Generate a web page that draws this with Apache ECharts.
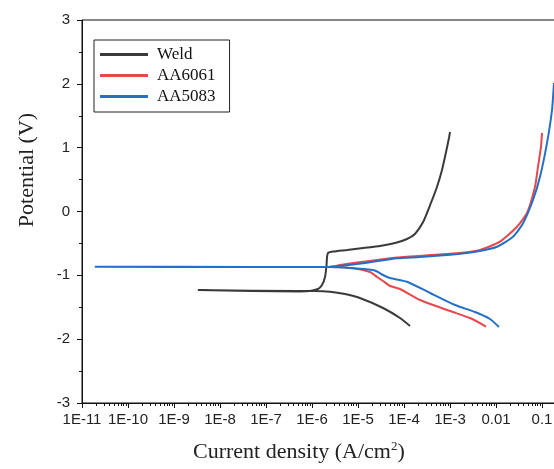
<!DOCTYPE html>
<html>
<head>
<meta charset="utf-8">
<script src="https://cdn.jsdelivr.net/npm/echarts@6/dist/echarts.min.js"></script>
<style>
  html, body { margin: 0; padding: 0; background: #fff; overflow: hidden; }
  #chart { width: 600px; height: 469px; }
</style>
</head>
<body>
<div id="chart"></div>
<script>
// [current density (A/cm2), potential (V)], in scan order
const weld = [
  [1.35e-4, -1.794], [8.2e-5, -1.669], [3.5e-5, -1.512], [1.1e-5, -1.355],
  [5.2e-6, -1.293], [2.46e-6, -1.257], [1.16e-6, -1.246], [5.5e-7, -1.246],
  [3.3e-9, -1.230], [5.5e-7, -1.253], [9.0e-7, -1.246], [1.35e-6, -1.214],
  [1.65e-6, -1.152], [1.92e-6, -1.026], [2.07e-6, -0.838], [2.12e-6, -0.713],
  [2.23e-6, -0.650], [2.86e-6, -0.627], [5.8e-6, -0.603], [1.29e-5, -0.572],
  [3.0e-5, -0.541], [6.4e-5, -0.494], [1.16e-4, -0.431], [1.73e-4, -0.353],
  [2.6e-4, -0.165], [3.7e-4, 0.102], [5.2e-4, 0.384], [6.7e-4, 0.650],
  [8.2e-4, 0.932], [9.5e-4, 1.151], [1.0e-3, 1.245]
];
const aa6061 = [
  [6.07e-3, -1.802], [2.72e-3, -1.669], [1.0e-3, -1.559], [2.23e-4, -1.387],
  [8.2e-5, -1.214], [5.0e-5, -1.167], [3.5e-5, -1.089], [2.6e-5, -1.026],
  [1.82e-5, -0.948], [8.6e-6, -0.893], [2.46e-6, -0.870], [1.0e-9, -0.870],
  [2.46e-6, -0.866], [4.07e-6, -0.838], [1.29e-5, -0.787], [7.0e-5, -0.721],
  [3.7e-4, -0.682], [1.65e-3, -0.650], [4.5e-3, -0.603], [0.0122, -0.473],
  [0.0286, -0.238], [0.0472, -0.024], [0.0705, 0.388], [0.0819, 0.702],
  [0.0951, 1.015], [0.1, 1.230]
];
const aa5083 = [
  [0.0116, -1.810], [7.4e-3, -1.684], [3.5e-3, -1.575], [1.29e-3, -1.465],
  [3.7e-4, -1.277], [1.16e-4, -1.100], [4.97e-5, -1.042], [3.5e-5, -0.995],
  [2.6e-5, -0.940], [2.1e-5, -0.917], [6.7e-6, -0.885],
  [2.46e-6, -0.870], [4.5e-8, -0.870], [1.9e-11, -0.865], [4.5e-8, -0.868],
  [2.46e-6, -0.865], [1.29e-5, -0.812], [7.0e-5, -0.733], [2.23e-4, -0.713],
  [1.16e-3, -0.674], [3.86e-3, -0.627], [0.0105, -0.552], [0.0234, -0.395],
  [0.0387, -0.185], [0.0637, 0.180], [0.0905, 0.545], [0.128, 1.068],
  [0.165, 1.590], [0.182, 2.013]
];
const seriesNames = ['Weld', 'AA6061', 'AA5083'];
const seriesColors = ['#3a3a3a', '#e5484d', '#2470c6'];
const yTicks = [-3, -2, -1, 0, 1, 2, 3];
const xDecades = [1e-11, 1e-10, 1e-9, 1e-8, 1e-7, 1e-6, 1e-5, 1e-4, 1e-3, 0.01, 0.1, 1];

// minor ticks at 2..9 of every decade
const xMinor = [];
xDecades.slice(0, -1).forEach(d => {
  for (let k = 2; k <= 9; k++) xMinor.push(d * k);
});

const fmtX = v => {
  const e = Math.round(Math.log10(v));
  return e <= -3 ? '1E' + e : String(Number(v.toPrecision(1)));
};

const chart = echarts.init(document.getElementById('chart'));

const sans = 'Liberation Sans, Arial, sans-serif';
const serif = 'Liberation Serif, Times New Roman, serif';

chart.setOption({
  animation: false,
  grid: {
    left: 82, top: 20, bottom: 66, right: 12,
    show: true, borderColor: '#111', borderWidth: 1
  },
  legend: {
    left: 94, top: 40,
    orient: 'vertical',
    data: seriesNames,
    icon: 'rect',
    itemWidth: 48, itemHeight: 3, itemGap: 4,
    padding: [6, 14, 7, 6],
    borderColor: '#222', borderWidth: 1,
    textStyle: { fontFamily: serif, fontSize: 17, color: '#111', padding: [0, 0, 0, 4] }
  },
  xAxis: [{
    type: 'log', logBase: 10, min: 1e-11, max: 1,
    axisLine: { onZero: false, lineStyle: { color: '#111', width: 1 } },
    axisTick: { length: 5, lineStyle: { color: '#111' }, customValues: xDecades },
    axisLabel: {
      customValues: xDecades,
      formatter: fmtX, margin: 9,
      fontFamily: sans, fontSize: 15, color: '#222'
    },
    splitLine: { show: false },
    minorTick: { show: false }
  }, {
    type: 'log', logBase: 10, min: 1e-11, max: 1, position: 'bottom',
    axisLine: { show: false, onZero: false },
    axisTick: { length: 3, lineStyle: { color: '#111' }, customValues: xMinor },
    axisLabel: { show: false },
    splitLine: { show: false }
  }],
  yAxis: {
    type: 'value', min: -3, max: 3, interval: 1,
    axisLine: { show: true, onZero: false, lineStyle: { color: '#111', width: 1 } },
    axisTick: { show: true, length: 5, lineStyle: { color: '#111' } },
    minorTick: { show: true, splitNumber: 2, length: 3, lineStyle: { color: '#111' } },
    axisLabel: {
      margin: 12, fontFamily: sans, fontSize: 15, color: '#222',
      formatter: v => (yTicks.includes(v) ? String(v) : '')
    },
    splitLine: { show: false }
  },
  graphic: [{
    type: 'text', left: 193, top: 440,
    style: {
      text: 'Current density (A/cm{sup|2})',
      font: '22px ' + serif, fill: '#222',
      rich: { sup: { fontSize: 13, fontFamily: serif, fill: '#222', padding: [0, 0, 12, 0] } }
    }
  }, {
    type: 'text', x: 27, y: 170, rotation: Math.PI / 2,
    style: {
      text: 'Potential (V)', font: '22px ' + serif, fill: '#222',
      align: 'center', verticalAlign: 'middle'
    }
  }],
  series: [weld, aa6061, aa5083].map((d, i) => ({
    name: seriesNames[i],
    type: 'line',
    xAxisIndex: 0,
    data: d,
    showSymbol: false,
    smooth: 0.2,
    lineStyle: { color: seriesColors[i], width: 2 },
    itemStyle: { color: seriesColors[i] }
  }))
});
</script>
</body>
</html>
